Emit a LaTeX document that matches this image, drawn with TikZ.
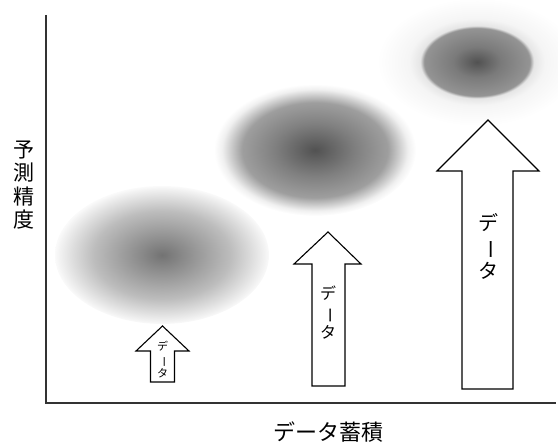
\documentclass[tikz,border=0pt]{standalone}
\usepackage{fontspec}
\usepackage{graphicx}
\setmainfont{Noto Sans CJK JP}
\pgfdeclareradialshading{blobA}{\pgfpoint{0bp}{0bp}}{color(0bp)=(black!55);color(6bp)=(black!44);color(16bp)=(black!26);color(21bp)=(black!13);color(24bp)=(black!5);color(25bp)=(black!2);color(50bp)=(white)}
\pgfdeclareradialshading{blobB}{\pgfpoint{0bp}{0bp}}{color(0bp)=(black!68);color(10bp)=(black!50);color(18bp)=(black!38);color(20.5bp)=(black!22);color(23bp)=(black!6);color(25bp)=(white);color(50bp)=(white)}
\pgfdeclareradialshading{blobC}{\pgfpoint{0bp}{0bp}}{color(0bp)=(black!68);color(6bp)=(black!52);color(13.2bp)=(black!42);color(14.2bp)=(black!10);color(17bp)=(black!4);color(25bp)=(white);color(50bp)=(white)}
\newcommand\vdata{デ\\\rotatebox[origin=c]{-90}{ー}\\タ}
\begin{document}
\begin{tikzpicture}[x=1pt,y=1pt,
  axisline/.style={line width=1.1pt,black!80},
  bigarrow/.style={draw=black,line width=1.1pt,fill=white,line join=miter},
  arrowtext/.style={align=center,inner sep=0pt}]
\useasboundingbox (0,0) rectangle (558,442);
% blobs
\shade[shading=blobA] (162,187) ellipse [x radius=107, y radius=69];
\shade[shading=blobB] (315,292) ellipse [x radius=101, y radius=66];
\shade[shading=blobC] (477,380) ellipse [x radius=100, y radius=64];
% axes
\coordinate (o) at (46,39);
\coordinate (ytop) at (46,427);
\coordinate (xend) at (556,39);
\draw[axisline] (ytop) -- (o) -- (xend);
% arrows
\draw[bigarrow] (150.5,60) -- (150.5,91) -- (136,91) -- (162.5,116) -- (189,91) -- (174.5,91) -- (174.5,60) -- cycle;
\draw[bigarrow] (312,56) -- (312,178) -- (294,178) -- (328,210) -- (361,178) -- (345,178) -- (345,56) -- cycle;
\draw[bigarrow] (462,53) -- (462,271) -- (437,271) -- (488,322) -- (539,271) -- (513,271) -- (513,53) -- cycle;
% texts
\node[arrowtext,font=\fontsize{11}{13.5}\selectfont] (ts) at (162.5,82) {\vdata};
\node[arrowtext,font=\fontsize{16}{19.5}\selectfont] (tm) at (328,129) {\vdata};
\node[arrowtext,font=\fontsize{20}{24}\selectfont] (tl) at (488,196) {\vdata};
\node[arrowtext,font=\fontsize{21}{23.5}\selectfont] (yl) at (24,257) {予\\測\\精\\度};
\node[arrowtext,font=\fontsize{22}{26}\selectfont] (xl) at (328,10) {データ蓄積};
\end{tikzpicture}
\end{document}
